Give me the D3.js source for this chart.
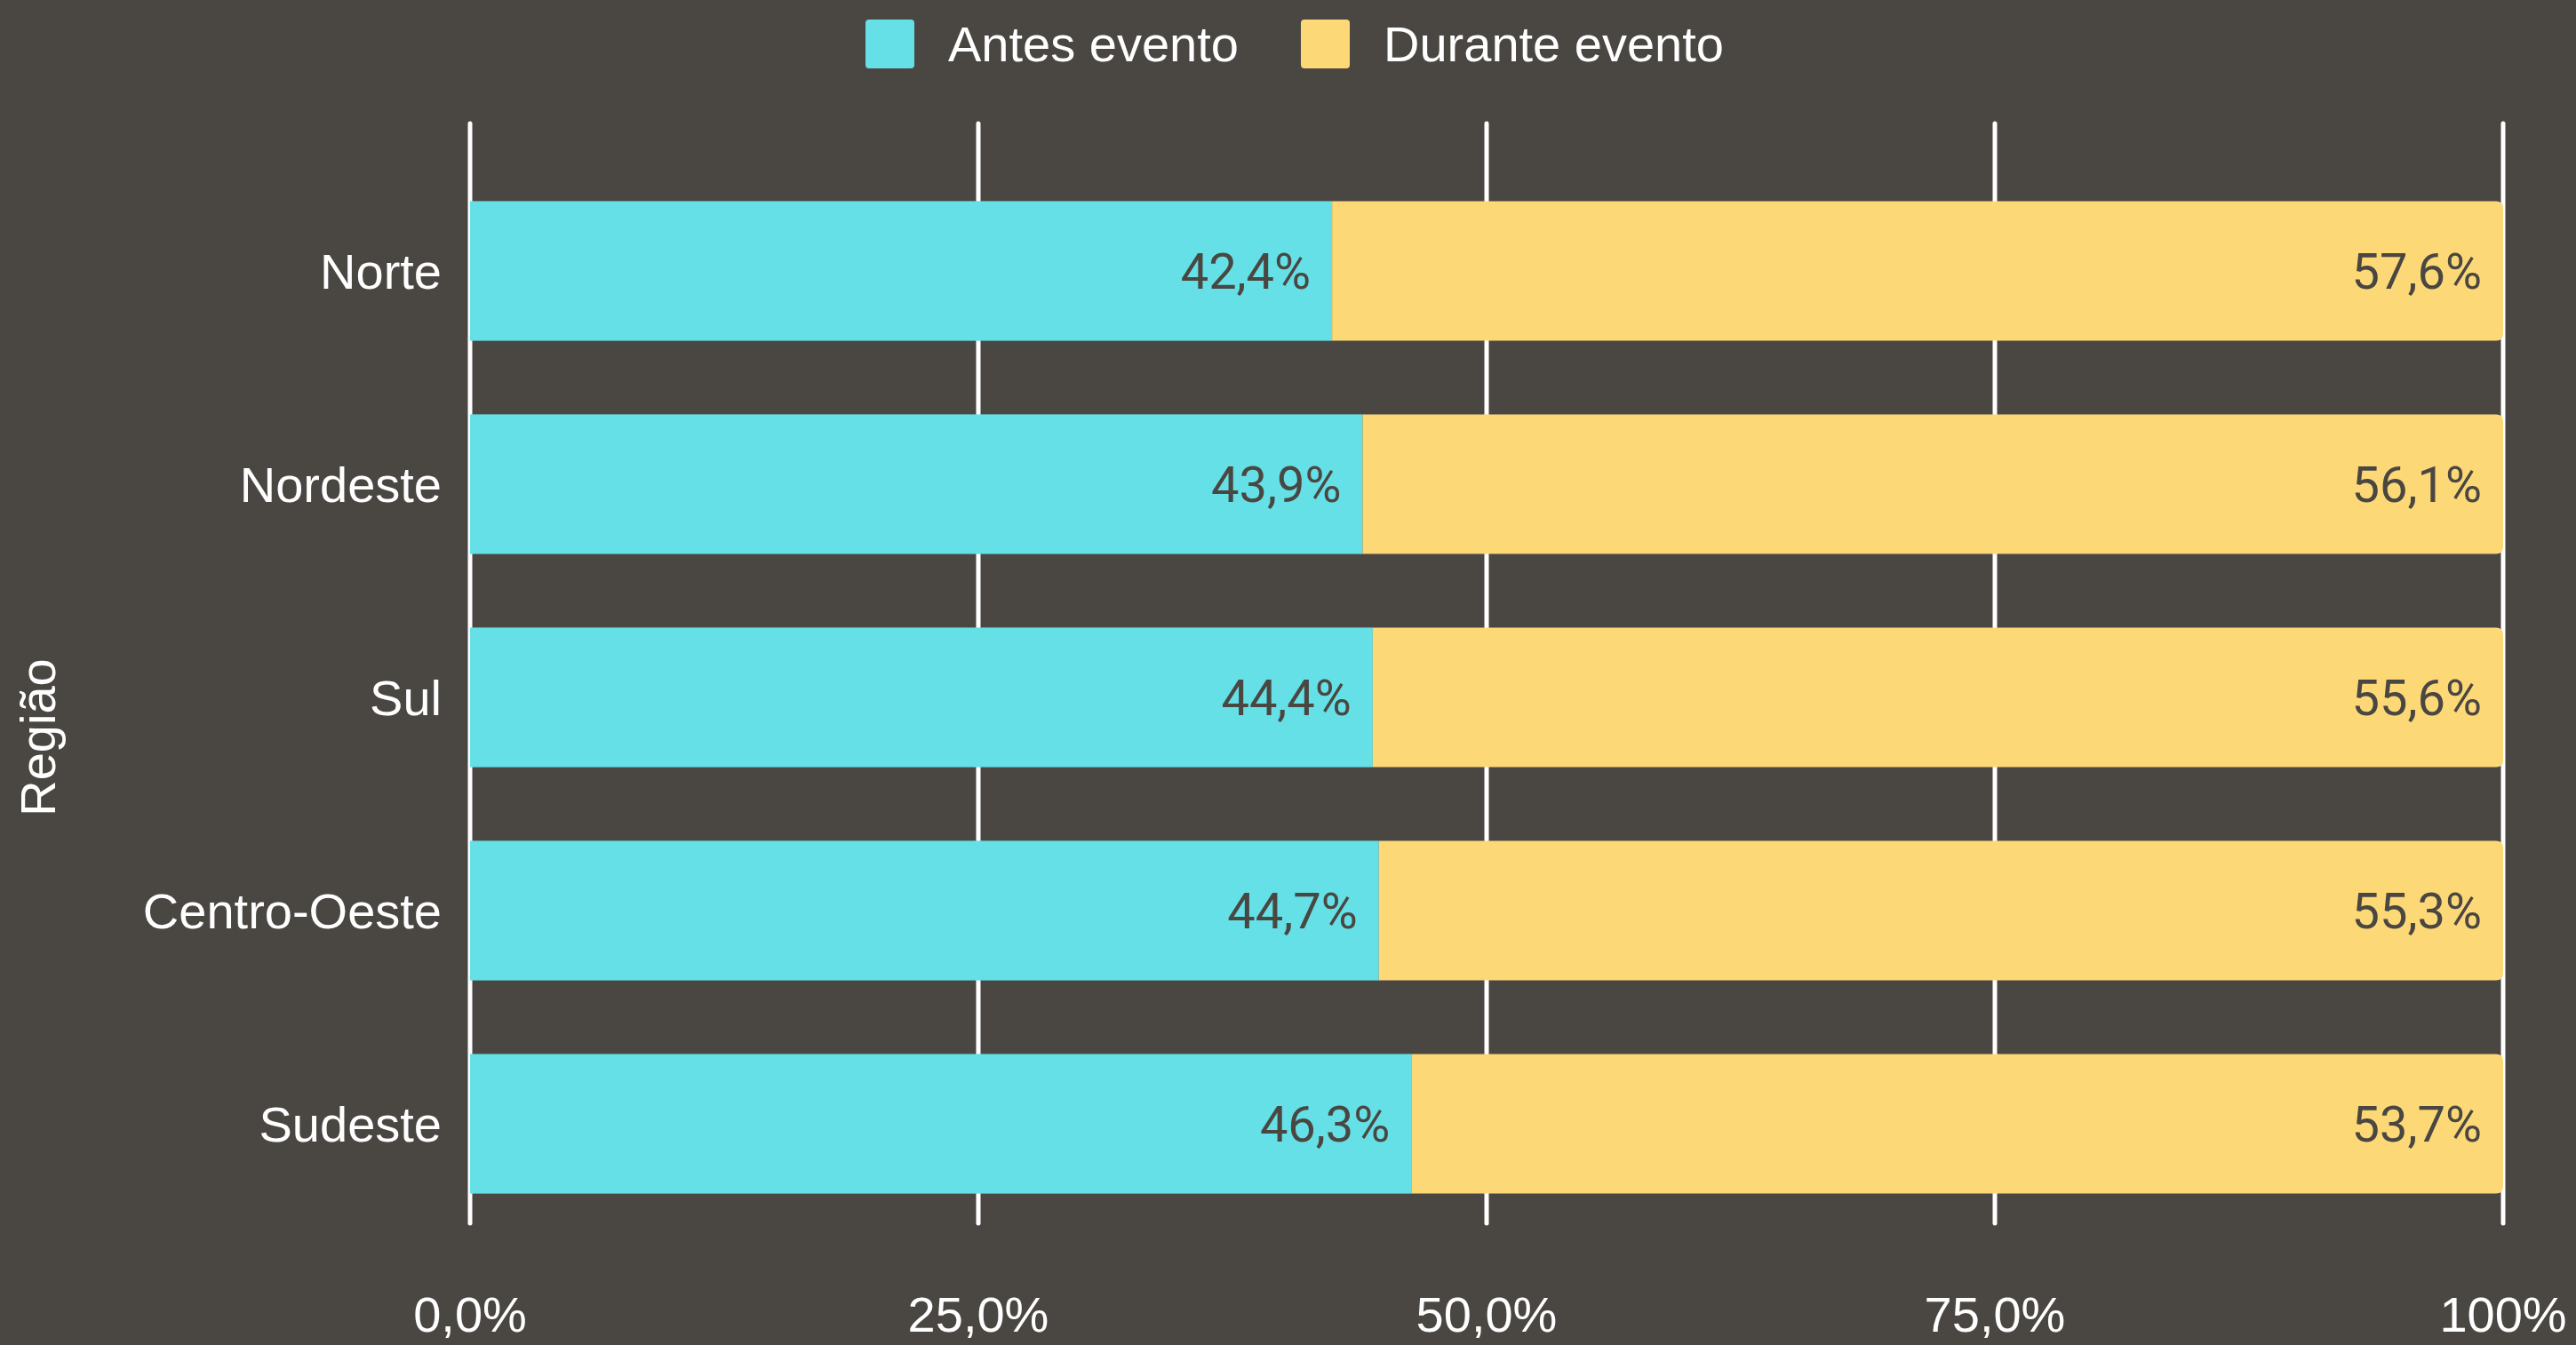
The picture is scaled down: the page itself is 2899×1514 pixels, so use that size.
<!DOCTYPE html>
<html>
<head>
<meta charset="utf-8">
<script src="https://cdn.jsdelivr.net/npm/d3@7"></script>
<style>
  html, body { margin: 0; padding: 0; background: #4a4742; }
  svg { display: block; }
</style>
</head>
<body>
<svg id="chart" width="2899" height="1514"></svg>
<script>
const regions = ["Norte", "Nordeste", "Sul", "Centro-Oeste", "Sudeste"];
const antes = [42.4, 43.9, 44.4, 44.7, 46.3];
const durante = [57.6, 56.1, 55.6, 55.3, 53.7];
const seriesNames = ["Antes evento", "Durante evento"];
const seriesColors = ["#64e0e6", "#fdd876"];
const tickValues = [0, 25, 50, 75, 100];
const tickLabels = ["0,0%", "25,0%", "50,0%", "75,0%", "100%"];

const W = 2899, H = 1514;
const bg = "#4a4742";
const labelFont = "'Liberation Sans', Arial, sans-serif";

const svg = d3.select("#chart");
svg.append("rect").attr("width", W).attr("height", H).attr("fill", bg);

const x = d3.scaleLinear().domain([0, 100]).range([529, 2817]);
const y = d3.scaleBand().domain(regions).range([185, 1385])
  .paddingInner(0.345).paddingOuter(0.1725);

// grid lines
svg.append("g").selectAll("line")
  .data(tickValues)
  .enter().append("line")
    .attr("x1", d => x(d)).attr("x2", d => x(d))
    .attr("y1", 139).attr("y2", 1377)
    .attr("stroke", "#ffffff")
    .attr("stroke-width", 5)
    .attr("stroke-linecap", "round");

// tick labels
svg.append("g").selectAll("text")
  .data(tickValues)
  .enter().append("text")
    .attr("x", d => x(d))
    .attr("y", 1499)
    .attr("text-anchor", "middle")
    .style("font-family", labelFont)
    .style("font-size", "56px")
    .style("fill", "#ffffff")
    .text((d, i) => tickLabels[i]);

// stacked rows
const rows = regions.map((r, i) => ({ region: r, antes: antes[i], durante: durante[i] }));
const stack = d3.stack().keys(["antes", "durante"]);
const stacked = stack(rows);

const layers = svg.append("g").selectAll("g")
  .data(stacked)
  .enter().append("g")
    .attr("fill", (d, i) => seriesColors[i]);

layers.each(function(layer, li) {
  const g = d3.select(this);
  if (li === 0) {
    g.selectAll("rect")
      .data(layer)
      .enter().append("rect")
        .attr("x", d => x(d[0]))
        .attr("y", d => y(d.data.region))
        .attr("width", d => x(d[1]) - x(d[0]))
        .attr("height", y.bandwidth());
  } else {
    // right end rounded
    const rr = 8;
    g.selectAll("path")
      .data(layer)
      .enter().append("path")
        .attr("d", d => {
          const x0 = x(d[0]), x1 = x(d[1]);
          const y0 = y(d.data.region), y1 = y0 + y.bandwidth();
          return `M${x0},${y0}H${x1 - rr}Q${x1},${y0} ${x1},${y0 + rr}V${y1 - rr}Q${x1},${y1} ${x1 - rr},${y1}H${x0}Z`;
        });
  }
  g.selectAll("text")
    .data(layer)
    .enter().append("text")
      .attr("x", d => x(d[1]) - 24)
      .attr("y", d => y(d.data.region) + y.bandwidth() / 2 + 20)
      .attr("text-anchor", "end")
      .style("font-family", "Roboto, sans-serif")
      .style("font-size", "56px")
      .style("fill", bg)
      .text(d => (d[1] - d[0]).toFixed(1).replace(".", ",") + "%");
});

// category labels
svg.append("g").selectAll("text")
  .data(regions)
  .enter().append("text")
    .attr("x", 497)
    .attr("y", d => y(d) + y.bandwidth() / 2 + 20)
    .attr("text-anchor", "end")
    .style("font-family", labelFont)
    .style("font-size", "56px")
    .style("fill", "#ffffff")
    .text(d => d);

// axis title
svg.append("text")
  .attr("transform", "translate(62,830) rotate(-90)")
  .attr("text-anchor", "middle")
  .style("font-family", labelFont)
  .style("font-size", "56px")
  .style("fill", "#ffffff")
  .text("Região");

// legend
const legendX = [974, 1464];
const legend = svg.append("g").selectAll("g")
  .data(seriesNames)
  .enter().append("g")
    .attr("transform", (d, i) => `translate(${legendX[i]},22)`);
legend.append("rect")
  .attr("width", 55).attr("height", 55)
  .attr("rx", 4)
  .attr("fill", (d, i) => seriesColors[i]);
legend.append("text")
  .attr("x", 93)
  .attr("y", 47)
  .style("font-family", labelFont)
  .style("font-size", "56px")
  .style("fill", "#ffffff")
  .text(d => d);
</script>
</body>
</html>
